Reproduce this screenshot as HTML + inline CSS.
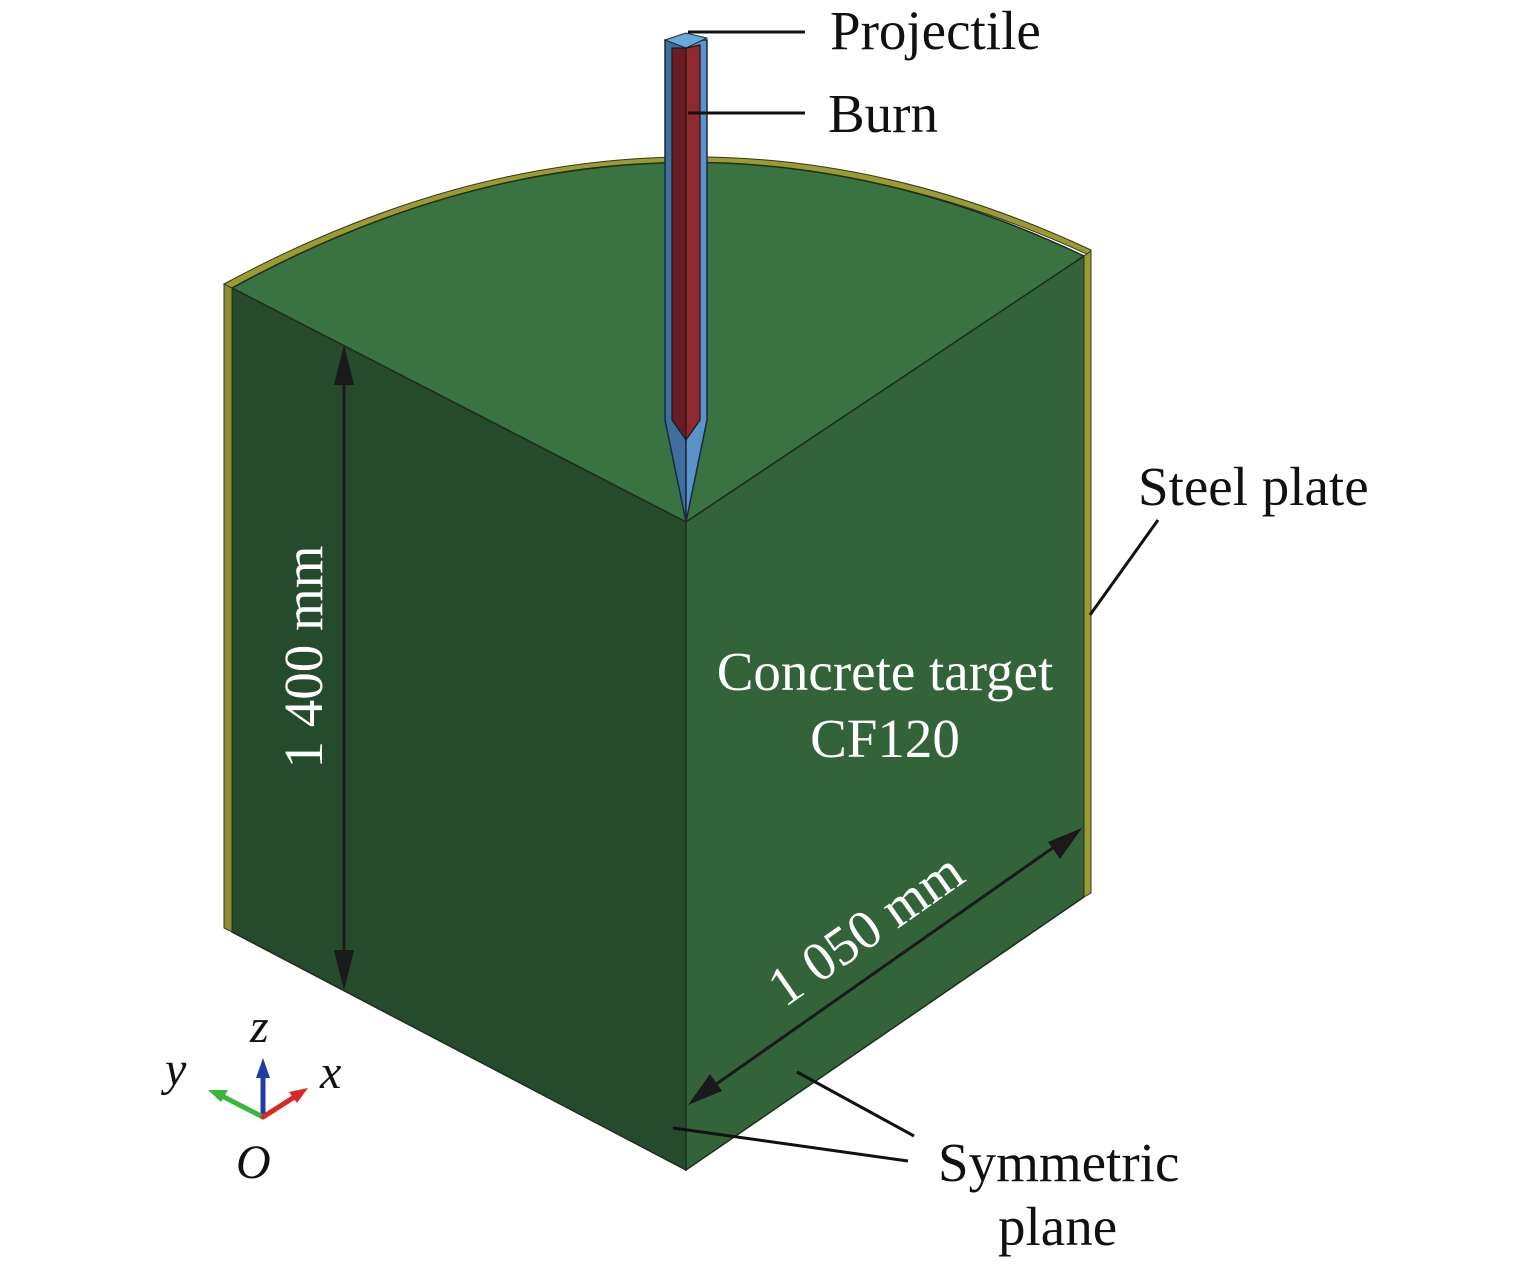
<!DOCTYPE html>
<html><head><meta charset="utf-8"><style>
html,body{margin:0;padding:0;background:#fff;}
svg{display:block;}
text{font-family:"Liberation Serif",serif;}
</style></head><body>
<svg width="1535" height="1266" viewBox="0 0 1535 1266" xmlns="http://www.w3.org/2000/svg">
<!-- steel rim top -->
<path d="M224,284 Q660,48 1091,250 L1091,256 Q660,56 232,290 Z" fill="#9c9c2e" stroke="#333" stroke-width="1"/>
<!-- top face -->
<path d="M232,288 Q660,54 1084,256 L686,522 Z" fill="#387341" stroke="#1e2e1e" stroke-width="1.5"/>
<!-- left face -->
<path d="M232,288 L686,522 L686,1170 L232,932 Z" fill="#264a2c" stroke="#1e2e1e" stroke-width="1.5"/>
<!-- right face -->
<path d="M686,522 L1084,256 L1084,897 L686,1170 Z" fill="#336339" stroke="#1e2e1e" stroke-width="1.5"/>
<!-- steel strips -->
<path d="M224,284 L232,288 L232,932 L224,928 Z" fill="#8e8e2c" stroke="#333" stroke-width="1"/>
<path d="M1084,256 L1091,251 L1091,893 L1084,897 Z" fill="#9c9c2e" stroke="#333" stroke-width="1"/>
<!-- projectile -->
<path d="M665,40 L665,420 L686,522 L686,40 Z" fill="#3e6f9e" stroke="#1a2a3a" stroke-width="1.5"/>
<path d="M686,40 L707,40 L707,420 L686,522 Z" fill="#5b93c8" stroke="#1a2a3a" stroke-width="1.5"/>
<path d="M665,40 L686,33 L707,38 L686,48 Z" fill="#6aa8dc" stroke="#1a2a3a" stroke-width="1"/>
<path d="M672,48 L672,420 L686,440 L686,48 Z" fill="#6a1c22" stroke="#1a1a1a" stroke-width="1.2"/>
<path d="M686,48 L700,45 L700,420 L686,440 Z" fill="#902830" stroke="#1a1a1a" stroke-width="1.2"/>
<!-- dimension arrows -->
<g stroke="#1a1a1a" stroke-width="3" fill="#1a1a1a">
<line x1="344" y1="365" x2="344" y2="970"/>
<path d="M344,345 L334,385 L354,385 Z" stroke="none"/>
<path d="M344,990 L334,950 L354,950 Z" stroke="none"/>
<line x1="705" y1="1092" x2="1064" y2="840"/>
<path d="M688,1105 L710,1074 L722,1091 Z" stroke="none"/>
<path d="M1082,828 L1060,859 L1048,842 Z" stroke="none"/>
</g>
<!-- leader lines -->
<g stroke="#111" stroke-width="3" fill="none">
<line x1="688" y1="32" x2="805" y2="32"/>
<line x1="688" y1="113" x2="805" y2="113"/>
<line x1="1158" y1="520" x2="1090" y2="615"/>
<line x1="797" y1="1072" x2="914" y2="1136"/>
<line x1="673" y1="1128" x2="908" y2="1161"/>
</g>
<!-- labels -->
<g fill="#111" font-size="55">
<text x="830" y="49">Projectile</text>
<text x="828" y="132">Burn</text>
<text x="1138" y="505">Steel plate</text>
<text x="938" y="1181">Symmetric</text>
<text x="998" y="1245">plane</text>
</g>
<g fill="#fff" font-size="55" text-anchor="middle">
<text x="885" y="690">Concrete target</text>
<text x="885" y="757">CF120</text>
<text transform="translate(322,657) rotate(-90)">1 400 mm</text>
<text transform="translate(876,944) rotate(-35)">1 050 mm</text>
</g>
<!-- axis triad -->
<g stroke-width="5" stroke-linecap="round">
<line x1="263" y1="1117" x2="263" y2="1072" stroke="#1e3fa0"/>
<line x1="263" y1="1117" x2="222" y2="1096" stroke="#38b838"/>
<line x1="263" y1="1117" x2="296" y2="1096" stroke="#d82828"/>
</g>
<path d="M263,1058 L256,1078 L270,1078 Z" fill="#1e3fa0"/>
<path d="M208,1090 L228,1090 L221,1102 Z" fill="#38b838"/>
<path d="M308,1088 L289,1092 L297,1103 Z" fill="#d82828"/>
<g fill="#111" font-size="48" font-style="italic">
<text x="250" y="1042">z</text>
<text x="165" y="1085">y</text>
<text x="320" y="1088">x</text>
<text x="236" y="1178">O</text>
</g>
</svg>
</body></html>
